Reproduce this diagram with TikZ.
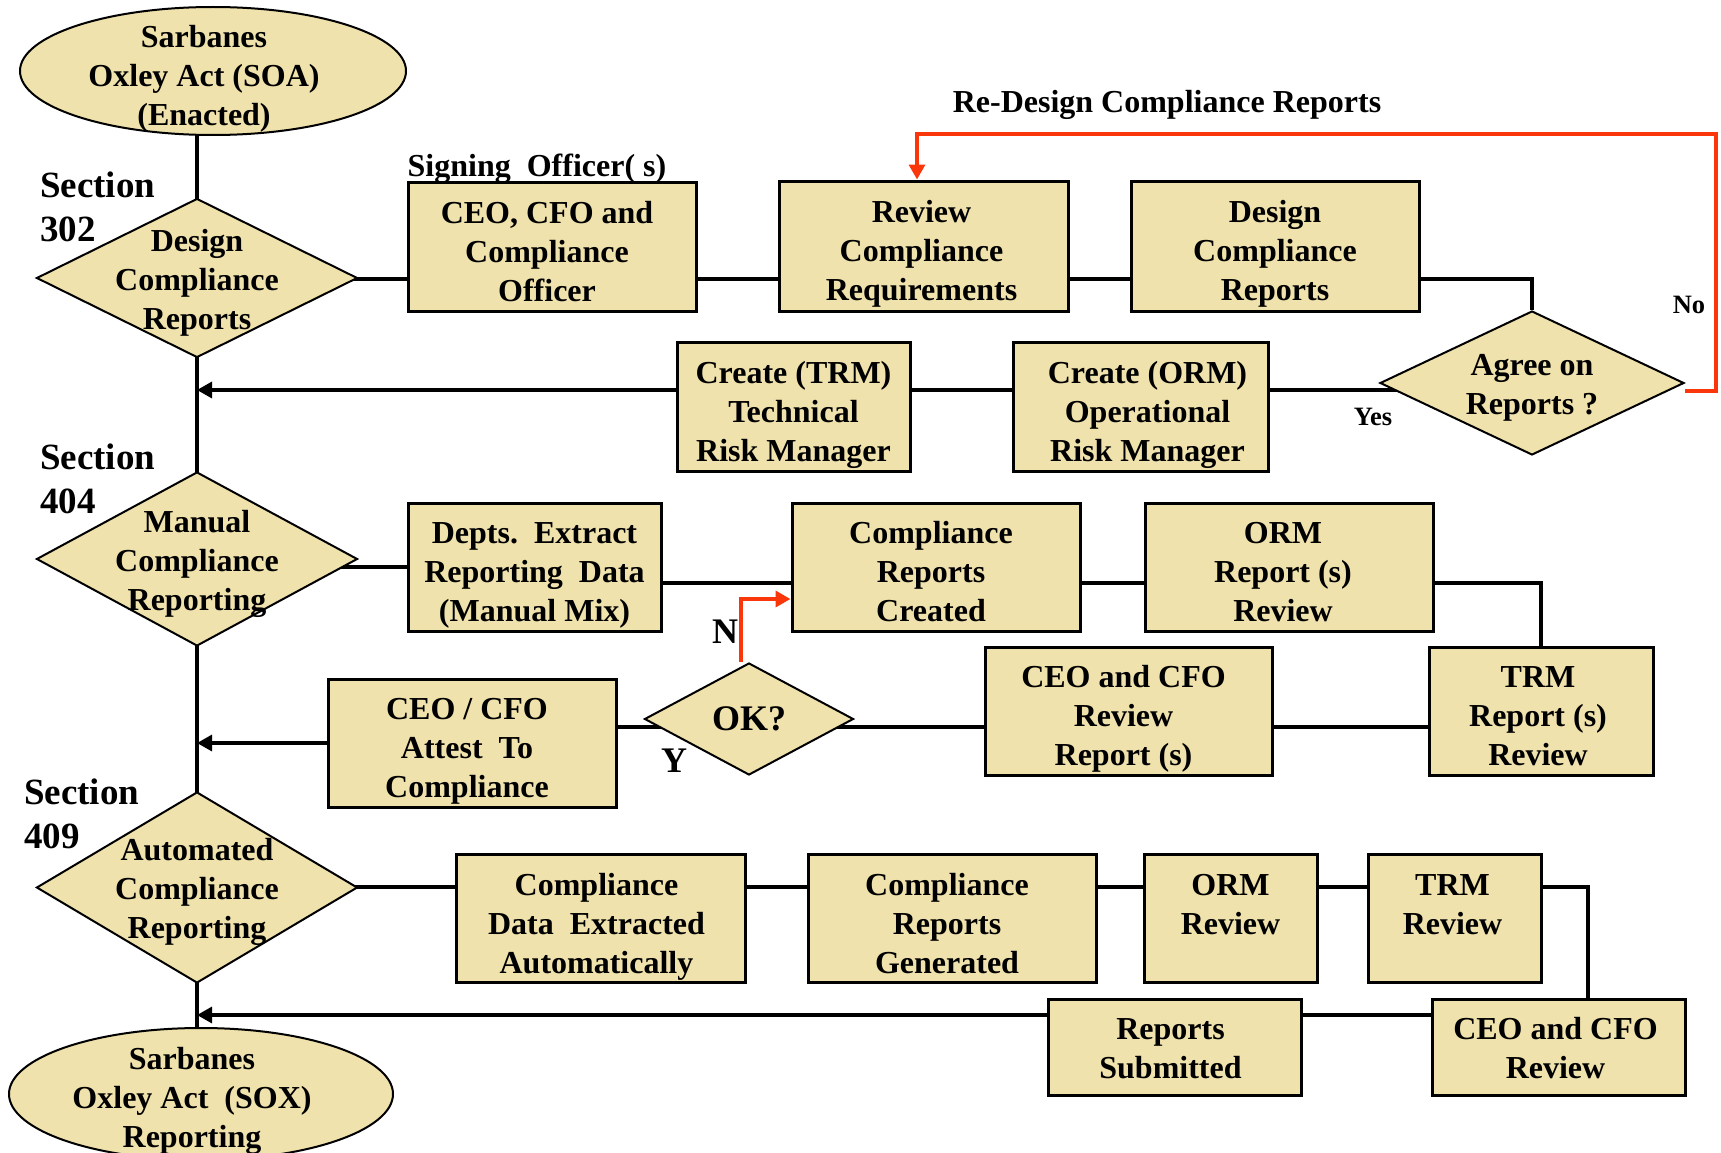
\documentclass[tikz,border=0pt]{standalone}
\usepackage{fontspec}
\setmainfont{Liberation Serif}
\usetikzlibrary{shapes.geometric,arrows.meta,backgrounds}
\definecolor{boxfill}{RGB}{240,226,172}
\definecolor{loopred}{RGB}{250,55,10}
\tikzset{
  sz/.style 2 args={minimum width=#1pt, minimum height=#2pt},
  % three-line boxes: the strut puts the lines slightly below the middle
  box/.style={draw, line width=3pt, fill=boxfill,
    execute at begin node={\rule[-8pt]{0pt}{125pt}}},
  % two-line boxes
  boxtwo/.style={draw, line width=3pt, fill=boxfill,
    execute at begin node={\rule[-8pt]{0pt}{78pt}}},
  tl/.style={execute at end node={\hspace*{#1pt}}},
  dia/.style={diamond, draw, line width=2pt, fill=boxfill},
  oval/.style={ellipse, draw, line width=2pt, fill=boxfill},
  seclabel/.style={font=\bfseries\fontsize{37}{44}\selectfont, align=left, anchor=west},
  small/.style={font=\bfseries\fontsize{26.5}{30}\selectfont},
  big/.style={font=\bfseries\fontsize{36}{40}\selectfont},
  conn/.style={line width=3.2pt},
  tip/.style={-{Triangle[length=15pt,width=16pt]}},
  loopline/.style={line width=3.4pt, draw=loopred, -{Triangle[length=15pt,width=16pt]}},
}
\begin{document}
\begin{tikzpicture}[x=1pt,y=-1pt,
  every node/.style={font=\bfseries\fontsize{32}{39}\selectfont, inner sep=0pt, align=center}]
\useasboundingbox (0,0) rectangle (1721,1153);

% ---- start / end of the process
\node[oval, sz={386}{128}] (soa) at (213,71) {};
\node (soatxt) at (204,79) {Sarbanes\\Oxley Act (SOA)\\(Enacted)};
\node[oval, sz={384}{132}] (sox) at (201,1094) {};
\node (soxtxt) at (192,1101) {Sarbanes\\Oxley Act~~(SOX)\\Reporting};

% ---- section 302
\node[dia, sz={321}{159}] (d1) at (197,278) {};
\node (d1txt) at (197,283) {Design\\Compliance\\Reports};
\node[seclabel] (s302) at (40,207) {Section\\302};
\node (signing) at (537,169) {Signing~~Officer( s)};
\node[box, tl=10, sz={288}{129}] (cco) at (552,246.5) {CEO, CFO and\\Compliance\\Officer};
\node[box, tl=4, sz={289}{130}] (rcr) at (923.5,246) {Review\\Compliance\\Requirements};
\node[box, sz={288}{130}] (dcr) at (1275,246) {Design\\Compliance\\Reports};
\node[dia, sz={304}{144}] (agree) at (1532,383) {};
\node (agreetxt) at (1532,388) {Agree on\\Reports ?};
\node (redesign) at (1167,105) {Re-Design Compliance Reports};
\node[small] (no) at (1689,305) {No};
\node[small] (yes) at (1373,417) {Yes};
\node[box, tl=-14, sz={255}{129}] (corm) at (1140.5,406.5) {Create (ORM)\\Operational\\Risk Manager};
\node[box, sz={233}{129}] (ctrm) at (793.5,406.5) {Create (TRM)\\Technical\\Risk Manager};

% ---- section 404
\node[dia, sz={321}{174}] (d2) at (197,559) {};
\node (d2txt) at (197,564) {Manual\\Compliance\\Reporting};
\node[seclabel] (s404) at (40,479) {Section\\404};
\node[box, sz={253}{128}] (depts) at (534.5,567) {Depts.~~Extract\\Reporting~~Data\\(Manual Mix)};
\node[box, tl=10, sz={288}{128}] (crc) at (936,567) {Compliance\\Reports\\Created};
\node[box, tl=12, sz={288}{128}] (ormr) at (1289,567) {ORM\\Report (s)\\Review};
\node[box, tl=6, sz={224}{128}] (trmr) at (1541,711) {TRM\\Report (s)\\Review};
\node[box, tl=10, sz={287}{128}] (ceor) at (1128.5,711) {CEO and CFO\\Review\\Report (s)};
\node[dia, sz={209}{112}] (ok) at (749,719) {};
\node[big] (oktxt) at (749,719) {OK?};
\node[big] (nlab) at (725,632) {N};
\node[big] (ylab) at (674,761) {Y};
\node[box, tl=10, sz={288}{128}] (attest) at (472,743) {CEO / CFO\\Attest~~To\\Compliance};

% ---- section 409
\node[dia, sz={321}{191}] (d3) at (197,887.5) {};
\node (d3txt) at (197,892) {Automated\\Compliance\\Reporting};
\node[seclabel] (s409) at (24,814) {Section\\409};
\node[box, tl=8, sz={289}{128}] (cdea) at (600.5,918.5) {Compliance\\Data~~Extracted\\Automatically};
\node[box, tl=10, sz={288}{128}] (crg) at (952,918.5) {Compliance\\Reports\\Generated};
\node[box, sz={173}{128}] (ormrv) at (1230.5,918.5) {ORM\\Review\\\mbox{}};
\node[box, tl=4, sz={173}{128}] (trmrv) at (1454.5,918.5) {TRM\\Review\\\mbox{}};
\node[boxtwo, tl=6, sz={253}{96}] (ceocfo) at (1558.5,1047) {CEO and CFO\\Review};
\node[boxtwo, tl=8, sz={253}{96}] (rsub) at (1174.5,1047) {Reports\\Submitted};

% ---- connector levels
\coordinate (r1) at (0,279);
\coordinate (r2) at (0,390);
\coordinate (r2r) at (0,391);
\coordinate (r3a) at (0,567);
\coordinate (r3) at (0,583);
\coordinate (r4) at (0,727);
\coordinate (r5) at (0,887);
\coordinate (r6) at (0,1015);
\coordinate (c5) at (1588,887);
\coordinate (loopR) at (1716,134);
\coordinate (loopL) at (917,134);
\coordinate (ny) at (0,599);

\begin{pgfonlayer}{background}
  % main spine
  \draw[conn] (d1 |- soa) -- (d1 |- sox);
  % section 302 flow
  \draw[conn] (d1 |- r1) -- (cco |- r1);
  \draw[conn] (cco |- r1) -- (rcr |- r1);
  \draw[conn] (rcr |- r1) -- (dcr |- r1);
  \draw[conn] (dcr |- r1) -| (agree);
  \draw[conn] (agree |- r2) -- (corm |- r2);
  \draw[conn] (corm |- r2) -- (ctrm |- r2);
  \draw[conn,tip] (ctrm |- r2) -- (d1 |- r2);
  % section 404 flow
  \draw[conn] (d2 |- r3a) -- (depts |- r3a);
  \draw[conn] (depts |- r3) -- (crc |- r3);
  \draw[conn] (crc |- r3) -- (ormr |- r3);
  \draw[conn] (ormr |- r3) -| (trmr);
  \draw[conn] (trmr |- r4) -- (ceor |- r4);
  \draw[conn] (ceor |- r4) -- (ok |- r4);
  \draw[conn] (ok |- r4) -- (attest |- r4);
  \draw[conn,tip] (attest) -- (d1 |- attest);
  % section 409 flow
  \draw[conn] (d3 |- r5) -- (cdea |- r5);
  \draw[conn] (cdea |- r5) -- (crg |- r5);
  \draw[conn] (crg |- r5) -- (ormrv |- r5);
  \draw[conn] (ormrv |- r5) -- (trmrv |- r5);
  \draw[conn] (trmrv |- r5) -- (c5) -- (c5 |- ceocfo);
  \draw[conn] (ceocfo |- r6) -- (rsub |- r6);
  \draw[conn,tip] (rsub |- r6) -- (d1 |- r6);
\end{pgfonlayer}

% ---- feedback loops
\draw[loopline] (agree.east |- r2r) -- (loopR |- r2r) -- (loopR) -- (loopL) -- (loopL |- rcr.north);
\draw[loopline] ([xshift=-8pt]ok.north) |- (crc.west |- ny);
\end{tikzpicture}
\end{document}
